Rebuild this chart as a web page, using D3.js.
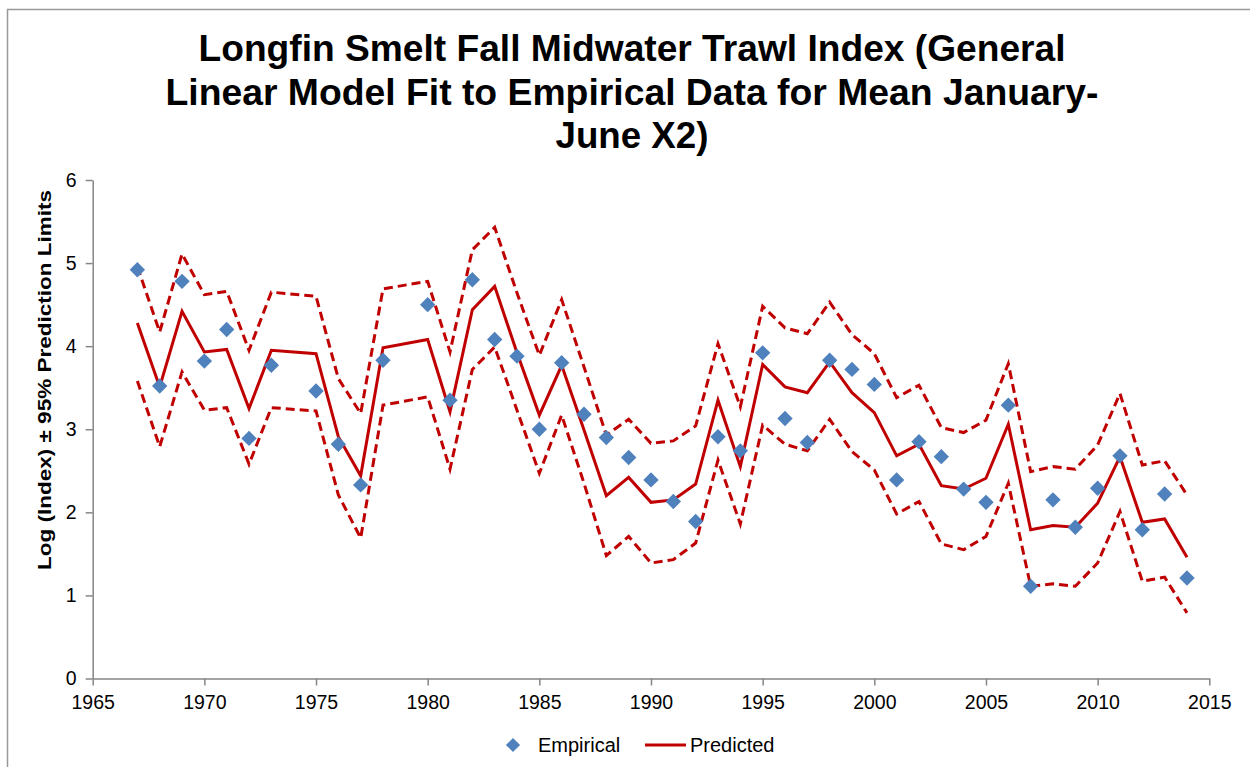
<!DOCTYPE html>
<html>
<head>
<meta charset="utf-8">
<script src="https://cdn.jsdelivr.net/npm/d3@7"></script>
<style>
  body { margin: 0; background: #fff; }
  svg { display: block; }
</style>
</head>
<body>
<script>
// Data (no survey in 1974 and 1979)
const years = [1967, 1968, 1969, 1970, 1971, 1972, 1973, 1975, 1976, 1977,
  1978, 1980, 1981, 1982, 1983, 1984, 1985, 1986, 1987, 1988,
  1989, 1990, 1991, 1992, 1993, 1994, 1995, 1996, 1997, 1998,
  1999, 2000, 2001, 2002, 2003, 2004, 2005, 2006, 2007, 2008,
  2009, 2010, 2011, 2012, 2013, 2014];
const empirical = [4.92, 3.52, 4.78, 3.82, 4.20, 2.89, 3.77, 3.46, 2.82, 2.33,
  3.83, 4.50, 3.35, 4.80, 4.08, 3.88, 3.00, 3.80, 3.18, 2.90,
  2.66, 2.39, 2.13, 1.89, 2.91, 2.74, 3.92, 3.13, 2.84, 3.83,
  3.72, 3.54, 2.39, 2.85, 2.67, 2.28, 2.12, 3.29, 1.11, 2.15,
  1.82, 2.29, 2.68, 1.79, 2.22, 1.21];
const predicted = [4.28, 3.51, 4.42, 3.93, 3.96, 3.25, 3.95, 3.91, 2.91, 2.44,
  3.98, 4.08, 3.21, 4.44, 4.72, 3.92, 3.17, 3.77, 2.99, 2.20,
  2.42, 2.12, 2.15, 2.34, 3.35, 2.55, 3.78, 3.51, 3.44, 3.81,
  3.44, 3.20, 2.68, 2.82, 2.32, 2.28, 2.41, 3.06, 1.79, 1.84,
  1.82, 2.11, 2.67, 1.88, 1.92, 1.46];
const upper = [4.96, 4.17, 5.11, 4.62, 4.66, 3.95, 4.65, 4.60, 3.61, 3.19,
  4.69, 4.78, 3.93, 5.16, 5.43, 4.64, 3.89, 4.56, 3.75, 2.93,
  3.12, 2.83, 2.86, 3.04, 4.03, 3.27, 4.48, 4.22, 4.15, 4.53,
  4.14, 3.91, 3.38, 3.53, 3.02, 2.96, 3.11, 3.79, 2.49, 2.55,
  2.52, 2.81, 3.43, 2.57, 2.62, 2.21];
const lower = [3.58, 2.79, 3.69, 3.23, 3.26, 2.58, 3.26, 3.22, 2.21, 1.69,
  3.29, 3.39, 2.52, 3.72, 3.99, 3.23, 2.47, 3.17, 2.35, 1.48,
  1.71, 1.39, 1.43, 1.63, 2.63, 1.86, 3.05, 2.82, 2.74, 3.12,
  2.73, 2.51, 1.98, 2.13, 1.62, 1.55, 1.71, 2.35, 1.11, 1.14,
  1.11, 1.39, 2.01, 1.17, 1.22, 0.79];
const xTicks = [1965, 1970, 1975, 1980, 1985, 1990, 1995, 2000, 2005, 2010, 2015];
const yTicks = [0, 1, 2, 3, 4, 5, 6];
const titleLines = [
  "Longfin Smelt Fall Midwater Trawl Index (General",
  "Linear Model Fit to Empirical Data for Mean January-",
  "June X2)"
];
const yLabel = "Log (Index) \u00b1 95% Prediction Limits";
const legendLabels = ["Empirical", "Predicted"];

// Layout
const width = 1250;
const height = 767;
const font = "'Liberation Sans', Arial, sans-serif";
const axisColor = "#868686";
const blue = "#4F81BD";
const red = "#C00000";

const x = d3.scaleLinear().domain([1965, 2015]).range([92.7, 1209.3]);
const y = d3.scaleLinear().domain([0, 6]).range([678.5, 180]);

const svg = d3.select("body").append("svg")
  .attr("width", width)
  .attr("height", height)
  .attr("viewBox", [0, 0, width, height]);

// Chart frame (cut off at the right and bottom)
svg.append("rect")
  .attr("x", 7.5).attr("y", 9.5)
  .attr("width", 1300).attr("height", 800)
  .attr("fill", "none")
  .attr("stroke", "#999")
  .attr("stroke-width", 1.5);

// Title
const titleWidths = [867, 933, 153];
svg.append("g")
  .selectAll("text")
  .data(titleLines)
  .join("text")
  .attr("x", 632)
  .attr("y", (d, i) => 61 + i * 43.5)
  .attr("text-anchor", "middle")
  .attr("font-family", font)
  .attr("font-weight", "bold")
  .attr("font-size", 37)
  .attr("textLength", (d, i) => titleWidths[i])
  .attr("lengthAdjust", "spacingAndGlyphs")
  .text(d => d);

// Axes
const xAxis = svg.append("g")
  .attr("transform", `translate(0,${y(0)})`)
  .call(d3.axisBottom(x).tickValues(xTicks).tickFormat(d3.format("d")).tickSizeInner(7).tickSizeOuter(0).tickPadding(10));
const yAxis = svg.append("g")
  .attr("transform", `translate(${x(1965)},0)`)
  .call(d3.axisLeft(y).tickValues(yTicks).tickFormat(d3.format("d")).tickSizeInner(7).tickSizeOuter(0).tickPadding(9));

[xAxis, yAxis].forEach(g => {
  g.select(".domain").attr("stroke", axisColor).attr("stroke-width", 1.5);
  g.selectAll(".tick line").attr("stroke", axisColor).attr("stroke-width", 1.5);
  g.selectAll(".tick text")
    .attr("fill", "#000")
    .attr("font-family", font)
    .attr("font-size", 19.5);
});

// Y axis title
svg.append("text")
  .attr("transform", "translate(51,380) rotate(-90)")
  .attr("text-anchor", "middle")
  .attr("font-family", font)
  .attr("font-weight", "bold")
  .attr("font-size", 19)
  .attr("textLength", 380)
  .attr("lengthAdjust", "spacingAndGlyphs")
  .text(yLabel);

// Series
const idx = d3.range(years.length);
const line = values => d3.line()
  .x(i => x(years[i]))
  .y(i => y(values[i]))(idx);

svg.append("path")
  .attr("d", line(upper))
  .attr("fill", "none")
  .attr("stroke", red)
  .attr("stroke-width", 3)
  .attr("stroke-dasharray", "9,5");
svg.append("path")
  .attr("d", line(lower))
  .attr("fill", "none")
  .attr("stroke", red)
  .attr("stroke-width", 3)
  .attr("stroke-dasharray", "9,5");
svg.append("path")
  .attr("d", line(predicted))
  .attr("fill", "none")
  .attr("stroke", red)
  .attr("stroke-width", 3);

const diamond = d3.symbol().type(d3.symbolSquare).size(118);
svg.append("g")
  .selectAll("path")
  .data(idx)
  .join("path")
  .attr("d", diamond)
  .attr("transform", i => `translate(${x(years[i])},${y(empirical[i])}) rotate(45)`)
  .attr("fill", blue);

// Legend
const legend = svg.append("g").attr("font-family", font).attr("font-size", 20);
legend.append("path")
  .attr("d", d3.symbol().type(d3.symbolSquare).size(100)())
  .attr("transform", "translate(513,745) rotate(45)")
  .attr("fill", blue);
legend.append("text")
  .attr("x", 538).attr("y", 752)
  .text(legendLabels[0]);
legend.append("line")
  .attr("x1", 645).attr("x2", 686)
  .attr("y1", 745).attr("y2", 745)
  .attr("stroke", red)
  .attr("stroke-width", 3);
legend.append("text")
  .attr("x", 690).attr("y", 752)
  .text(legendLabels[1]);
</script>
</body>
</html>
